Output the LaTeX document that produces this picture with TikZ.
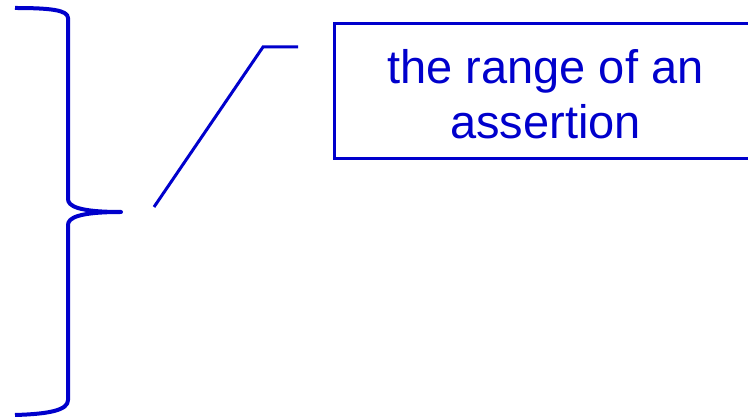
\documentclass[tikz,border=0pt]{standalone}
\usepackage{fontspec}
\setmainfont{Liberation Sans}
\definecolor{brblue}{RGB}{0,0,204}
\tikzset{
  bracepath/.style={draw=brblue, line width=4pt, line cap=butt, line join=round},
  callout/.style={draw=brblue, line width=3pt, line join=miter},
  labelbox/.style={draw=brblue, line width=3pt, text=brblue, minimum width=422pt, minimum height=135pt, align=center, inner sep=0pt, font=\fontsize{47}{55}\selectfont}
}
\begin{document}
\begin{tikzpicture}[x=1pt,y=-1pt]
\useasboundingbox (0,0) rectangle (748,419);
% brace
\coordinate (btop) at (15,8);
\coordinate (btip) at (121,212);
\coordinate (bbot) at (15,415);
\draw[bracepath] (btop) .. controls (50,8) and (68,10) .. (68,18) -- (68,199)
  .. controls (68,206) and (78,212) .. (btip)
  .. controls (78,212) and (68,218) .. (68,225) -- (68,400)
  .. controls (68,410) and (50,414) .. (bbot);
% label box
\node[labelbox, anchor=north west] (lbl) at (333,22.5) {\rule{0pt}{40pt}the range of an\\assertion};
% callout
\coordinate (cstart) at (154,207);
\coordinate (cbend) at (263,47);
\coordinate (cend) at (298,47);
\draw[callout] (cstart) -- (cbend) -- (cend);
\end{tikzpicture}
\end{document}
